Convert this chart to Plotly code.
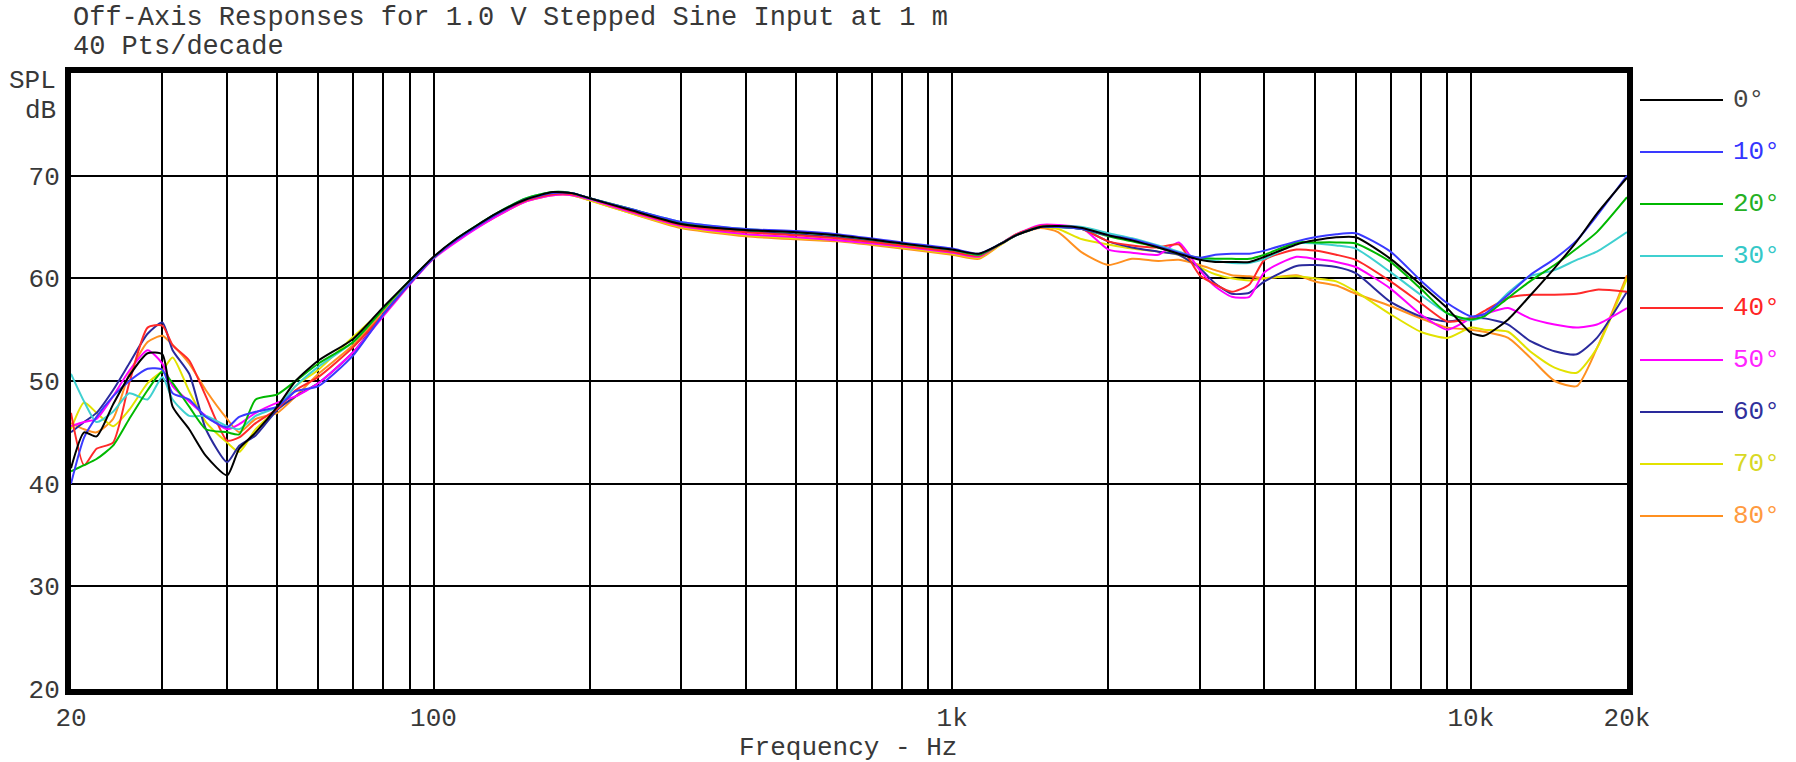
import plotly.graph_objects as go

# ---------------- data ----------------
FREQ = [20, 21.2, 22.4, 24.1, 25.9, 28.1, 30, 31.4, 33.8, 36.4, 40, 42.2, 45.4, 50, 54.2, 60, 70, 80, 90,
        100, 111, 132, 151, 170, 185, 200, 238, 300, 400, 500, 600, 800, 1000, 1126,
        1234, 1330, 1478, 1600, 1781, 2000, 2222, 2497, 2733,
        3000, 3214, 3460, 3741, 4000, 4610, 5000, 5500, 6000, 7000, 8000, 9000, 10000, 10600, 11800,
        13000, 14500, 16000, 17500, 20000]

ANGLES = ["0°", "10°", "20°", "30°", "40°", "50°", "60°", "70°", "80°"]
LINE_COLORS = ["#000000", "#3a3aff", "#00b800", "#3fd0d0", "#ff2a2a", "#ff00ff", "#2a2a9c", "#e2e200", "#ff9020"]
TEXT_COLORS = ["#444444", "#3535ff", "#25b025", "#35c8c8", "#ff2525", "#ff25ff", "#30309c", "#d8d825", "#ff9a40"]

spl_0 = [41.5, 45.0, 44.6, 47.7, 50.5, 52.7, 52.6, 47.5, 45.3, 42.7, 40.8, 43.4, 45.0, 47.5, 50.0, 52.0, 54.1, 57.2, 59.8,
         62.1, 63.9, 66.3, 67.7, 68.4, 68.3, 67.8, 66.7, 65.3, 64.7, 64.5, 64.2, 63.4, 62.8, 62.4,
         63.3, 64.2, 65.0, 65.1, 64.9, 64.2, 63.7, 63.0, 62.4,
         61.8, 61.6, 61.6, 61.6, 62.1, 63.3, 63.7, 64.0, 64.0, 61.9, 59.4, 57.1, 54.7, 54.4, 56.0,
         58.3, 61.0, 63.6, 66.3, 69.8]
spl_10 = [40.0, 44.5, 46.5, 48.5, 50.0, 51.2, 51.1, 48.8, 48.2, 46.5, 45.5, 46.5, 47.0, 47.5, 49.0, 49.5, 52.5, 56.5, 59.5,
          62.0, 63.8, 66.2, 67.7, 68.3, 68.3, 67.8, 66.8, 65.5, 64.8, 64.6, 64.3, 63.5, 62.9, 62.4,
          63.3, 64.2, 65.0, 65.0, 64.8, 64.2, 63.8, 63.1, 62.5,
          62.0, 62.3, 62.4, 62.4, 62.7, 63.6, 64.0, 64.3, 64.4, 62.6, 59.8, 57.6, 56.3, 56.5, 58.4,
          60.3, 61.9, 63.7, 66.1, 70.0]
spl_20 = [41.2, 41.8, 42.4, 43.7, 46.3, 49.1, 50.9, 49.8, 47.5, 45.3, 45.0, 44.8, 48.2, 48.7, 50.0, 51.7, 53.8, 57.0, 59.8,
          62.0, 63.9, 66.3, 67.8, 68.4, 68.3, 67.8, 66.8, 65.4, 64.7, 64.5, 64.2, 63.4, 62.8, 62.3,
          63.3, 64.2, 65.0, 65.0, 64.8, 64.1, 63.6, 63.0, 62.4,
          62.0, 61.9, 61.9, 61.9, 62.3, 63.5, 63.5, 63.5, 63.4, 61.6, 59.0, 56.6, 56.0, 56.3, 58.1,
          59.7, 61.3, 62.9, 64.5, 67.9]
spl_30 = [50.7, 48.0, 46.0, 47.0, 48.8, 48.2, 50.4, 48.2, 46.6, 46.6, 45.6, 45.3, 46.6, 47.5, 49.5, 51.4, 53.8, 57.0, 59.8,
          62.0, 63.9, 66.3, 67.8, 68.4, 68.3, 67.8, 66.8, 65.5, 64.8, 64.5, 64.2, 63.4, 62.8, 62.3,
          63.3, 64.2, 65.0, 65.1, 65.0, 64.4, 63.9, 63.2, 62.6,
          61.9, 61.7, 61.5, 61.5, 61.9, 63.4, 63.4, 63.2, 62.9, 60.6, 58.4, 56.6, 55.9, 56.3, 58.6,
          60.2, 60.8, 61.8, 62.6, 64.5]
spl_40 = [46.9, 41.8, 43.4, 44.0, 49.8, 55.2, 55.4, 53.5, 52.0, 48.5, 44.2, 44.5, 45.9, 47.3, 49.1, 50.4, 53.3, 56.5, 59.5,
          62.0, 63.8, 66.2, 67.6, 68.2, 68.2, 67.8, 66.6, 65.2, 64.5, 64.2, 63.9, 63.2, 62.6, 62.2,
          63.3, 64.3, 65.1, 65.1, 64.8, 63.6, 63.2, 63.0, 63.3,
          60.3, 59.4, 58.7, 59.4, 61.8, 62.8, 62.7, 62.3, 61.8, 59.7, 57.6, 55.8, 56.1, 56.8, 58.1,
          58.4, 58.4, 58.5, 58.9, 58.7]
spl_50 = [45.6, 46.0, 46.3, 48.5, 51.0, 53.0, 51.7, 49.5, 48.0, 46.6, 45.3, 45.8, 46.9, 47.9, 48.5, 49.8, 52.8, 56.3, 59.4,
          61.9, 63.6, 66.0, 67.5, 68.1, 68.1, 67.7, 66.5, 65.1, 64.3, 64.0, 63.7, 63.1, 62.5, 62.1,
          63.3, 64.3, 65.2, 65.2, 64.9, 62.8, 62.5, 62.3, 63.5,
          60.8, 59.2, 58.2, 58.2, 60.6, 62.1, 61.9, 61.6, 61.1, 59.0, 56.5, 55.0, 56.1, 56.5, 57.1,
          56.1, 55.5, 55.2, 55.5, 57.1]
spl_60 = [45.0, 46.0, 46.9, 49.1, 51.7, 54.6, 55.7, 53.0, 50.7, 45.3, 42.1, 43.7, 44.7, 47.2, 48.5, 49.8, 52.8, 56.5, 59.5,
          62.0, 63.8, 66.2, 67.7, 68.3, 68.3, 67.8, 66.7, 65.3, 64.6, 64.3, 64.0, 63.3, 62.7, 62.3,
          63.3, 64.2, 65.0, 65.0, 64.8, 63.6, 63.0, 62.6, 62.3,
          61.0, 59.5, 58.5, 58.6, 59.7, 61.2, 61.3, 61.1, 60.5, 57.7, 56.3, 55.8, 56.1, 56.1, 55.5,
          53.9, 52.9, 52.6, 54.2, 58.7]
spl_70 = [45.3, 47.9, 46.9, 45.6, 47.2, 49.8, 51.0, 52.3, 49.0, 46.0, 44.0, 43.1, 45.3, 47.3, 49.5, 51.1, 54.3, 57.0, 59.7,
          62.0, 63.7, 66.1, 67.6, 68.2, 68.1, 67.6, 66.4, 65.0, 64.2, 63.9, 63.7, 63.0, 62.4, 62.0,
          63.2, 64.2, 65.0, 64.8, 63.8, 63.3, 62.9, 62.6, 62.3,
          61.1, 60.4, 60.0, 59.8, 60.0, 60.2, 60.0, 59.7, 58.7, 56.5, 54.8, 54.2, 55.2, 55.0, 54.8,
          52.9, 51.3, 50.8, 53.2, 60.0]
spl_80 = [45.9, 45.3, 45.0, 46.3, 50.7, 53.8, 54.4, 53.5, 51.7, 49.1, 46.3, 45.0, 46.3, 46.9, 48.5, 50.7, 53.5, 56.8, 59.6,
          62.0, 63.7, 66.0, 67.5, 68.1, 68.1, 67.6, 66.4, 64.9, 64.1, 63.8, 63.6, 62.9, 62.3, 61.9,
          63.2, 64.2, 64.9, 64.5, 62.5, 61.3, 61.9, 61.7, 61.8,
          61.3, 60.8, 60.3, 60.2, 60.0, 60.3, 59.7, 59.3, 58.5, 57.3, 56.1, 55.2, 55.0, 54.8, 54.2,
          52.3, 50.0, 49.5, 53.2, 60.3]

SERIES = [spl_0, spl_10, spl_20, spl_30, spl_40, spl_50, spl_60, spl_70, spl_80]

X_GRID = [20, 30, 40, 50, 60, 70, 80, 90, 100, 200, 300, 400, 500, 600, 700, 800, 900,
          1000, 2000, 3000, 4000, 5000, 6000, 7000, 8000, 9000, 10000, 20000]
X_LABELS = {20: "20", 100: "100", 1000: "1k", 10000: "10k", 20000: "20k"}
Y_TICKS = [20, 30, 40, 50, 60, 70, 80]
Y_LABELS = ["20", "30", "40", "50", "60", "70", ""]

TITLE_1 = "Off-Axis Responses for 1.0 V Stepped Sine Input at 1 m"
TITLE_2 = "40 Pts/decade"
X_TITLE = "Frequency - Hz"

# ---------------- layout geometry (pixels) ----------------
W, H = 1796, 762
BORDER = 6
# frame line centres in the reference: left 68, right 1630, top 70, bottom 692;
# plotly draws axis lines just outside the data area, so inset by half the width
HB = BORDER / 2
PLOT_L, PLOT_R, PLOT_T, PLOT_B = 68 + HB, 1630 - HB, 70 + HB, 692 - HB
ML, MT, MB = PLOT_L, PLOT_T, H - PLOT_B
LEG_LEFT = 1640
PW = W - ML
PH = H - MT - MB
FONT = "Liberation Mono, Courier New, monospace"
TXT = "#383838"


def px_x(px):
    return (px - ML) / PW


def px_y(py):
    return (PLOT_B - py) / PH


fig = go.Figure()

# curves: draw 80° first so 0° ends on top
for name, col, vals in reversed(list(zip(ANGLES, LINE_COLORS, SERIES))):
    fig.add_trace(go.Scatter(x=FREQ, y=vals, mode="lines", name=name,
                             line=dict(color=col, width=2, shape="spline", smoothing=0.6),
                             showlegend=False, xaxis="x", yaxis="y"))

# legend drawn on its own hidden axes (one row per angle)
for i, (name, col, tcol) in enumerate(zip(ANGLES, LINE_COLORS, TEXT_COLORS)):
    fig.add_trace(go.Scatter(x=[0, 83], y=[i, i], mode="lines", line=dict(color=col, width=2),
                             showlegend=False, xaxis="x2", yaxis="y2", hoverinfo="skip"))
    fig.add_trace(go.Scatter(x=[93], y=[i], mode="text", text=[name], textposition="middle right",
                             textfont=dict(family=FONT, size=26, color=tcol),
                             showlegend=False, xaxis="x2", yaxis="y2", hoverinfo="skip"))

LEG_ROW0 = 100   # y (px) of first legend row
LEG_STEP = 52.0
fig.update_layout(
    width=W, height=H, autosize=False,
    margin=dict(l=ML, r=0, t=MT, b=MB, pad=0, autoexpand=False),
    paper_bgcolor="white", plot_bgcolor="white",
    font=dict(family=FONT, size=26, color=TXT),
    xaxis=dict(type="log", range=[1.30103, 4.30103], domain=[0, (PLOT_R - ML) / PW],
               tickvals=X_GRID, ticktext=[X_LABELS.get(v, "") for v in X_GRID],
               showgrid=True, gridcolor="#000000", gridwidth=1.6,
               showline=True, linecolor="#000000", linewidth=BORDER, mirror=True,
               ticks="", zeroline=False, automargin=False, tickfont=dict(size=26, color=TXT)),
    yaxis=dict(range=[20, 80], tickvals=Y_TICKS, ticktext=Y_LABELS,
               showgrid=True, gridcolor="#000000", gridwidth=1.6,
               showline=True, linecolor="#000000", linewidth=BORDER, mirror=True,
               ticks="", zeroline=False, automargin=False, tickfont=dict(size=26, color=TXT)),
    xaxis2=dict(domain=[(LEG_LEFT - ML) / PW, 1], range=[0, W - LEG_LEFT], visible=False, anchor="y2"),
    yaxis2=dict(domain=[0, 1], range=[(PLOT_B - LEG_ROW0) / LEG_STEP, (PLOT_T - LEG_ROW0) / LEG_STEP],
                visible=False, anchor="x2"),
    showlegend=False,
)

ann = [
    dict(text=TITLE_1, x=px_x(71), y=px_y(18), xanchor="left", yanchor="middle",
         font=dict(size=27, color=TXT)),
    dict(text=TITLE_2, x=px_x(71), y=px_y(47), xanchor="left", yanchor="middle",
         font=dict(size=27, color=TXT)),
    dict(text="SPL", x=px_x(58), y=px_y(81), xanchor="right", yanchor="middle",
         font=dict(size=26, color=TXT)),
    dict(text="dB", x=px_x(58), y=px_y(111), xanchor="right", yanchor="middle",
         font=dict(size=26, color=TXT)),
    dict(text=X_TITLE, x=px_x(848), y=px_y(748), xanchor="center", yanchor="middle",
         font=dict(size=26, color=TXT)),
]
for a in ann:
    a.update(xref="paper", yref="paper", showarrow=False)
fig.update_layout(annotations=ann)

# remove the browser's default 8px body margin so the figure fills the window exactly
fig.write_html("out.html", config={"displayModeBar": False},
               post_script="document.body.style.margin='0px';")
